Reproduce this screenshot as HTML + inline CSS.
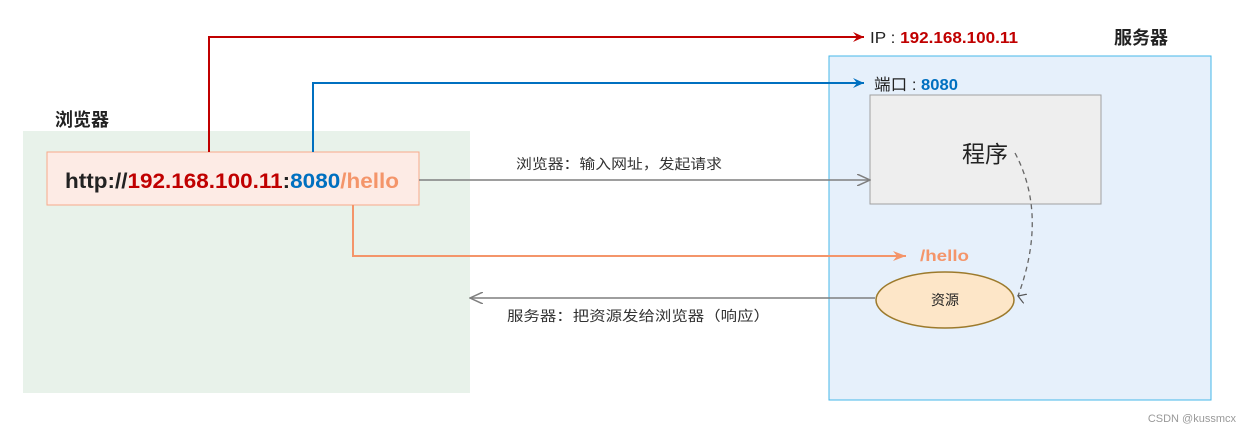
<!DOCTYPE html>
<html><head><meta charset="utf-8"><style>
html,body{margin:0;padding:0;background:#fff;}
svg{display:block;font-family:"Liberation Sans","Noto Sans CJK SC",sans-serif;}
</style></head><body>
<svg width="1250" height="433" viewBox="0 0 1250 433" xmlns="http://www.w3.org/2000/svg">
<defs>
<marker id="ar" markerWidth="12" markerHeight="10" refX="11" refY="5" orient="auto" markerUnits="userSpaceOnUse"><path d="M0,0 L11,5 L0,10 L4,5 Z" fill="#c00000"/></marker>
<marker id="ab" markerWidth="12" markerHeight="10" refX="11" refY="5" orient="auto" markerUnits="userSpaceOnUse"><path d="M0,0 L11,5 L0,10 L4,5 Z" fill="#0070c0"/></marker>
<marker id="ao" markerWidth="14" markerHeight="10" refX="13" refY="5" orient="auto" markerUnits="userSpaceOnUse"><path d="M0,0 L13,5 L0,10 L4,5 Z" fill="#f4956a"/></marker>
<marker id="ag" markerWidth="14" markerHeight="12" refX="13" refY="6" orient="auto" markerUnits="userSpaceOnUse"><path d="M0,0 L13,6 L0,12" fill="none" stroke="#7f7f7f" stroke-width="1.5"/></marker>
<marker id="ad" markerWidth="10" markerHeight="10" refX="5" refY="8" orient="auto" markerUnits="userSpaceOnUse"><path d="M0,0 L5,8 L10,0" fill="none" stroke="#555" stroke-width="1.2"/></marker>
</defs>
<rect x="23" y="131" width="447" height="262" fill="#e8f2ea"/>
<text x="55" y="126" font-size="18" font-weight="bold" fill="#222">浏览器</text>
<rect x="829" y="56" width="382" height="344" fill="#e6f0fb" stroke="#45b7e8" stroke-width="1"/>
<text x="1114" y="44" font-size="18" font-weight="bold" fill="#222">服务器</text>
<rect x="870" y="95" width="231" height="109" fill="#eeeeee" stroke="#a0a0a0"/>
<text x="962" y="162" font-size="23" fill="#222">程序</text>
<ellipse cx="945" cy="300" rx="69" ry="28" fill="#fde6c8" stroke="#9c7a2c" stroke-width="1.5"/>
<text x="945" y="305" font-size="14" fill="#222" text-anchor="middle">资源</text>
<path d="M1015,153 C1040,200 1035,250 1018,296" fill="none" stroke="#666" stroke-width="1.3" stroke-dasharray="5,4" marker-end="url(#ad)"/>
<rect x="47" y="152" width="372" height="53" fill="#fdebe5" stroke="#f8a98a"/>
<path d="M209,152 V37 H864" fill="none" stroke="#c00000" stroke-width="2" marker-end="url(#ar)"/>
<path d="M313,152 V83 H864" fill="none" stroke="#0070c0" stroke-width="2" marker-end="url(#ab)"/>
<path d="M353,205 V256 H906" fill="none" stroke="#f4956a" stroke-width="2" marker-end="url(#ao)"/>
<path d="M419,180 H870" fill="none" stroke="#7f7f7f" stroke-width="1.5" marker-end="url(#ag)"/>
<path d="M875,298 H470" fill="none" stroke="#7f7f7f" stroke-width="1.5" marker-end="url(#ag)"/>
<text x="65" y="188" font-size="21" font-weight="bold" fill="#222" textLength="334" lengthAdjust="spacingAndGlyphs">http://<tspan fill="#c00000">192.168.100.11</tspan>:<tspan fill="#0070c0">8080</tspan><tspan fill="#f4956a">/hello</tspan></text>
<text x="870" y="43" font-size="16" fill="#222" textLength="148" lengthAdjust="spacingAndGlyphs">IP : <tspan font-weight="bold" fill="#c00000">192.168.100.11</tspan></text>
<text x="874" y="90" font-size="16" fill="#222" textLength="84" lengthAdjust="spacingAndGlyphs">端口 : <tspan font-weight="bold" fill="#0070c0">8080</tspan></text>
<text x="920" y="261" font-size="16" font-weight="bold" fill="#f4956a" textLength="49" lengthAdjust="spacingAndGlyphs">/hello</text>
<text x="516" y="169" font-size="14" fill="#333" textLength="206" lengthAdjust="spacingAndGlyphs">浏览器：输入网址，发起请求</text>
<text x="507" y="321" font-size="14" fill="#333" textLength="263" lengthAdjust="spacingAndGlyphs">服务器：把资源发给浏览器（响应）</text>
<text x="1236" y="422" font-size="11" fill="#999" text-anchor="end">CSDN @kussmcx</text>
</svg>
</body></html>
